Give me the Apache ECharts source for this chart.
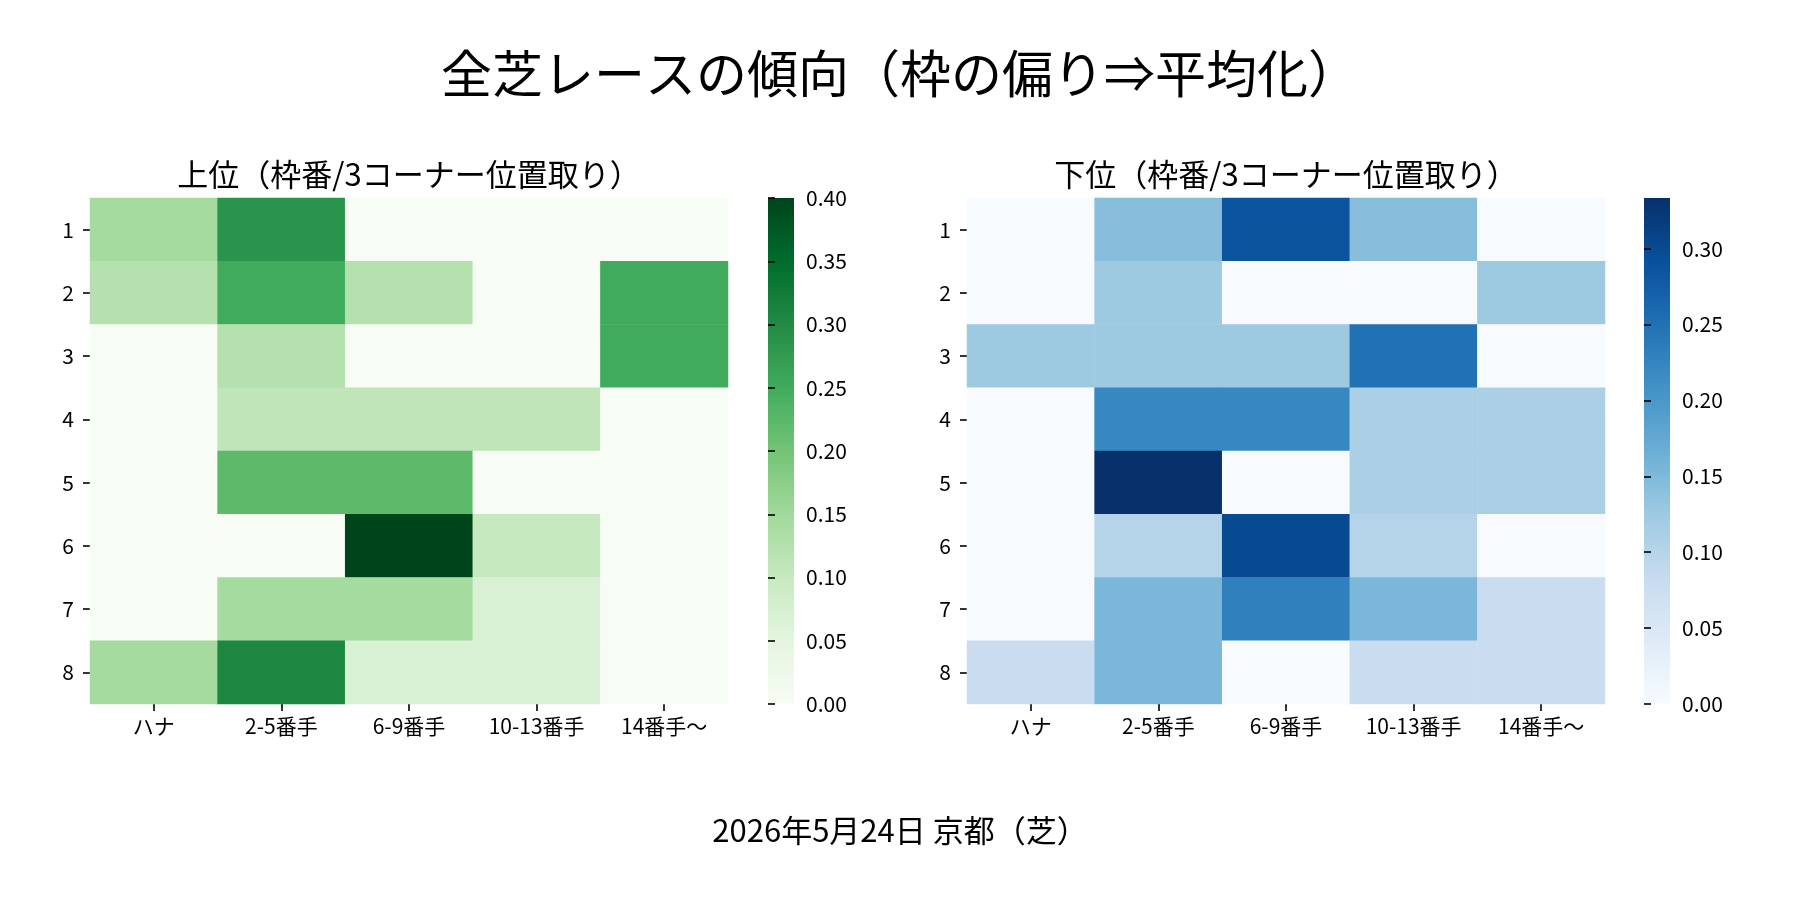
<!DOCTYPE html>
<html>
<head>
<meta charset="utf-8">
<title>全芝レースの傾向</title>
<script src="https://cdn.jsdelivr.net/npm/echarts@6/dist/echarts.min.js"></script>
<style>
  html, body { margin: 0; padding: 0; background: #fff; }
  #main { width: 1800px; height: 900px; }
</style>
</head>
<body>
<div id="main"></div>
<script type="text/javascript">
// 列 = 3コーナー位置取り, 行 = 枠番
var positions = ['ハナ', '2-5番手', '6-9番手', '10-13番手', '14番手～'];
var gates = ['1', '2', '3', '4', '5', '6', '7', '8'];

// 上位（枠番ごとの割合）
var topRates = [
    [0.143, 0.286, 0,     0,     0],
    [0.125, 0.25,  0.125, 0,     0.25],
    [0,     0.125, 0,     0,     0.25],
    [0,     0.111, 0.111, 0.111, 0],
    [0,     0.222, 0.222, 0,     0],
    [0,     0,     0.4,   0.1,   0],
    [0,     0.143, 0.143, 0.071, 0],
    [0.143, 0.308, 0.071, 0.071, 0]
];

// 下位（枠番ごとの割合）
var bottomRates = [
    [0,     0.143, 0.286, 0.143, 0],
    [0,     0.125, 0,     0,     0.125],
    [0.125, 0.125, 0.125, 0.25,  0],
    [0,     0.222, 0.222, 0.111, 0.111],
    [0,     0.333, 0,     0.111, 0.111],
    [0,     0.1,   0.3,   0.1,   0],
    [0,     0.154, 0.231, 0.154, 0.077],
    [0.077, 0.154, 0,     0.077, 0.077]
];

var topMax = 0.4;
var bottomMax = 1 / 3;

var greens = ['#f7fcf5', '#e5f5e0', '#c7e9c0', '#a1d99b', '#74c476', '#41ab5d', '#238b45', '#006d2c', '#00441b'];
var blues = ['#f7fbff', '#deebf7', '#c6dbef', '#9ecae1', '#6baed6', '#4292c6', '#2171b5', '#08519c', '#08306b'];

var FONT = '"Noto Sans CJK JP", "Noto Sans", sans-serif';

function toCells(rows) {
    var out = [];
    rows.forEach(function (row, r) {
        row.forEach(function (v, c) { out.push([c, r, v]); });
    });
    return out;
}

// カラーバー用のグラデーション（上が濃い色）
function gradient(colors) {
    var stops = colors.map(function (c, i) {
        return { offset: 1 - i / (colors.length - 1), color: c };
    });
    return { type: 'linear', x: 0, y: 0, x2: 0, y2: 1, colorStops: stops.reverse() };
}

var tickStyle = { show: true, length: 7, lineStyle: { color: '#000', width: 1.6 } };
var labelStyle = { color: '#000', fontSize: 21, fontFamily: FONT };

function catX(grid) {
    return {
        type: 'category', gridIndex: grid, data: positions,
        axisLine: { show: false },
        axisTick: Object.assign({ alignWithLabel: true }, tickStyle),
        axisLabel: Object.assign({ margin: 12, interval: 0 }, labelStyle),
        splitLine: { show: false }, splitArea: { show: false }
    };
}
function catY(grid) {
    return {
        type: 'category', gridIndex: grid, data: gates, inverse: true,
        axisLine: { show: false },
        axisTick: Object.assign({ alignWithLabel: true }, tickStyle),
        axisLabel: Object.assign({ margin: 16 }, labelStyle),
        splitLine: { show: false }, splitArea: { show: false }
    };
}
function barY(grid, max) {
    return {
        type: 'value', gridIndex: grid, position: 'right',
        min: 0, max: max, interval: 0.05,
        axisLine: { show: false },
        axisTick: tickStyle,
        axisLabel: Object.assign({ margin: 12, formatter: function (v) { return v.toFixed(2); } }, labelStyle),
        splitLine: { show: false }
    };
}
function hiddenX(grid) {
    return { type: 'value', gridIndex: grid, show: false, min: 0, max: 1 };
}

var chart = echarts.init(document.getElementById('main'), null, { renderer: 'canvas' });

// 右のカラーバーは 0.30 までの目盛り部分だけを軸にする
var barTop = 198, barH = 506;
var rightAxisH = barH * 0.3 / bottomMax;

chart.setOption({
    backgroundColor: '#fff',
    animation: false,
    textStyle: { fontFamily: FONT },
    grid: [
        { left: 90, top: barTop, width: 638, height: barH },
        { left: 967, top: barTop, width: 638, height: barH },
        { left: 768, top: barTop, width: 26, height: barH },
        { left: 1644, top: barTop + barH - rightAxisH, width: 26, height: rightAxisH }
    ],
    xAxis: [catX(0), catX(1), hiddenX(2), hiddenX(3)],
    yAxis: [catY(0), catY(1), barY(2, topMax), barY(3, 0.3)],
    visualMap: [
        { type: 'continuous', show: false, seriesIndex: 0, min: 0, max: topMax, inRange: { color: greens } },
        { type: 'continuous', show: false, seriesIndex: 1, min: 0, max: bottomMax, inRange: { color: blues } }
    ],
    series: [
        {
            name: '上位', type: 'heatmap', xAxisIndex: 0, yAxisIndex: 0,
            data: toCells(topRates), itemStyle: { borderWidth: 0 },
            emphasis: { disabled: true }
        },
        {
            name: '下位', type: 'heatmap', xAxisIndex: 1, yAxisIndex: 1,
            data: toCells(bottomRates), itemStyle: { borderWidth: 0 },
            emphasis: { disabled: true }
        }
    ],
    graphic: [
        { type: 'rect', shape: { x: 768, y: barTop, width: 26, height: barH }, style: { fill: gradient(greens) }, silent: true },
        { type: 'rect', shape: { x: 1644, y: barTop, width: 26, height: barH }, style: { fill: gradient(blues) }, silent: true },
        { type: 'text', x: 900, y: 74, style: { text: '全芝レースの傾向（枠の偏り⇒平均化）', font: '51px ' + FONT, fill: '#000', textAlign: 'center', textVerticalAlign: 'middle' } },
        { type: 'text', x: 409, y: 174, style: { text: '上位（枠番/3コーナー位置取り）', font: '31px ' + FONT, fill: '#000', textAlign: 'center', textVerticalAlign: 'middle' } },
        { type: 'text', x: 1286, y: 174, style: { text: '下位（枠番/3コーナー位置取り）', font: '31px ' + FONT, fill: '#000', textAlign: 'center', textVerticalAlign: 'middle' } },
        { type: 'text', x: 900, y: 830, style: { text: '2026年5月24日 京都（芝）', font: '31px ' + FONT, fill: '#000', textAlign: 'center', textVerticalAlign: 'middle' } }
    ]
});
</script>
</body>
</html>
